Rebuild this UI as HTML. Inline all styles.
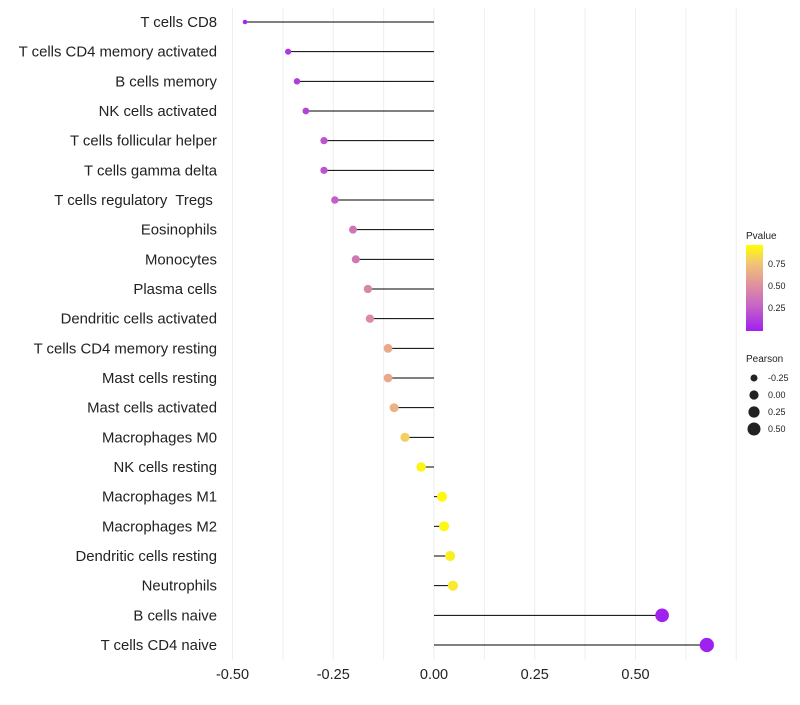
<!DOCTYPE html>
<html><head><meta charset="utf-8"><style>
body{margin:0;background:#fff;font-family:"Liberation Sans",sans-serif}
</style></head><body>
<svg id="c" width="800" height="700" xmlns="http://www.w3.org/2000/svg">
<defs><linearGradient id="pg" x1="0" y1="1" x2="0" y2="0">
<stop offset="0" stop-color="#a020f0"/><stop offset="0.3" stop-color="#c766c4"/><stop offset="0.55" stop-color="#e0949c"/><stop offset="0.8" stop-color="#f3c772"/><stop offset="1" stop-color="#ffff00"/></linearGradient></defs>
<g id="grid"></g><g id="marks"></g><g id="labels"></g>
<g font-size="9" fill="#222">
<text x="746" y="239" font-size="10">Pvalue</text>
<rect x="746" y="245" width="17" height="86" fill="url(#pg)"/>
<text x="768" y="267">0.75</text><text x="768" y="289">0.50</text><text x="768" y="311">0.25</text>
</g>
<g font-size="9" fill="#222">
<text x="746" y="362" font-size="10">Pearson</text>
<circle cx="754" cy="378" r="3.5"/><text x="768" y="381">-0.25</text>
<circle cx="754" cy="395" r="4.6"/><text x="768" y="398">0.00</text>
<circle cx="754" cy="412" r="5.6"/><text x="768" y="415">0.25</text>
<circle cx="754" cy="429" r="6.5"/><text x="768" y="432">0.50</text>
</g>
</svg>
<script>
const categories=["T cells CD8","T cells CD4 memory activated","B cells memory","NK cells activated","T cells follicular helper","T cells gamma delta","T cells regulatory  Tregs ","Eosinophils","Monocytes","Plasma cells","Dendritic cells activated","T cells CD4 memory resting","Mast cells resting","Mast cells activated","Macrophages M0","NK cells resting","Macrophages M1","Macrophages M2","Dendritic cells resting","Neutrophils","B cells naive","T cells CD4 naive"];
const pearson=[-0.469,-0.362,-0.340,-0.318,-0.273,-0.273,-0.246,-0.201,-0.194,-0.164,-0.159,-0.114,-0.114,-0.099,-0.072,-0.032,0.020,0.025,0.040,0.047,0.566,0.677];
const pvalue=[0.03,0.1,0.12,0.15,0.22,0.22,0.27,0.38,0.39,0.48,0.5,0.66,0.66,0.7,0.83,0.96,0.98,0.97,0.94,0.92,0.006,0.001];
const ticks=[-0.5,-0.25,0,0.25,0.5];
const tickLabels=["-0.50","-0.25","0.00","0.25","0.50"];
const NS="http://www.w3.org/2000/svg";
const x=v=>434+v*403;
const y=i=>22+i*(623/21);
const stops=[[0,[160,32,240]],[0.3,[199,102,196]],[0.55,[224,148,156]],[0.8,[243,199,114]],[1,[255,255,0]]];
function col(p){for(let i=1;i<stops.length;i++){if(p<=stops[i][0]){const a=stops[i-1],b=stops[i],t=(p-a[0])/(b[0]-a[0]);return 'rgb('+a[1].map((c,k)=>Math.round(c+(b[1][k]-c)*t)).join(',')+')';}}return 'rgb(255,255,0)';}
const rad=v=>Math.sqrt(Math.max(1,24+40*v));
function mk(t,a,p){const e=document.createElementNS(NS,t);for(const k in a)e.setAttribute(k,a[k]);p.appendChild(e);return e;}
const grid=document.getElementById('grid'),marks=document.getElementById('marks'),labels=document.getElementById('labels');
for(let v=-0.5;v<=0.751;v+=0.125){const g=mk('line',{x1:x(v),x2:x(v),y1:8,y2:660,stroke:'#eeeeee','stroke-width':1},grid);

}
ticks.forEach((t,i)=>{const e=mk('text',{x:x(t),y:679,'text-anchor':'middle','font-size':14.5,fill:'#222'},labels);e.textContent=tickLabels[i];

});
categories.forEach((c,i)=>{const e=mk('text',{x:217,y:y(i)+5,'text-anchor':'end','font-size':14.9,fill:'#222','xml:space':'preserve'},labels);e.textContent=c;
e.setAttribute('style','white-space:pre');


const l=mk('line',{x1:x(0),x2:x(pearson[i]),y1:y(i),y2:y(i),stroke:'#000','stroke-width':1},marks);


const d=mk('circle',{cx:x(pearson[i]),cy:y(i),r:rad(pearson[i]),fill:col(pvalue[i])},marks);

});
</script>
</body></html>
